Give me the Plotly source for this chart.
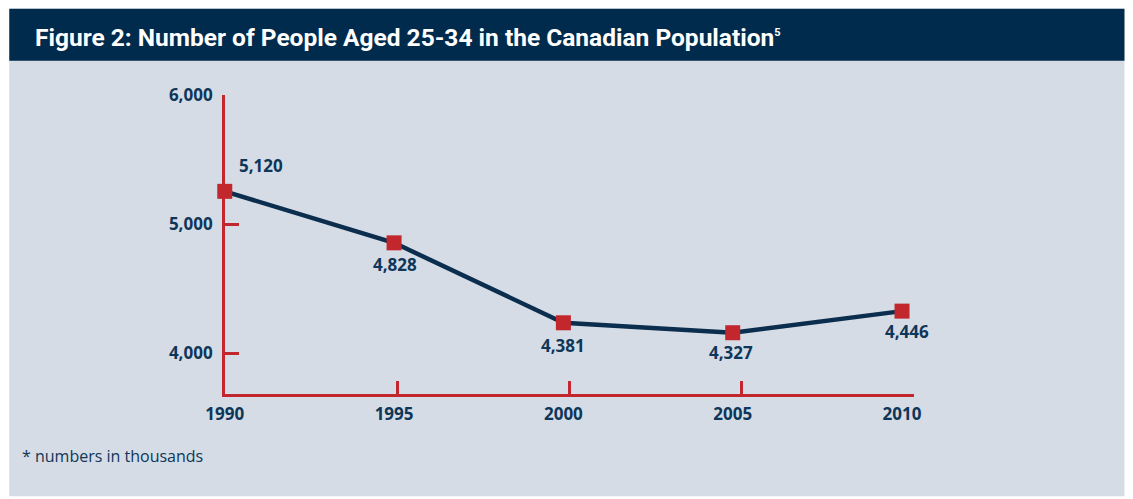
import plotly.graph_objects as go

# ---- data ----
years = [1990, 1995, 2000, 2005, 2010]
# plotted positions as read against the drawn y-axis (thousands)
values = [5253, 4855, 4237, 4160, 4327]
# printed labels on the chart
labels = ["5,120", "4,828", "4,381", "4,327", "4,446"]
ytick_vals = [4000, 5000, 6000]
ytick_text = ["4,000", "5,000", "6,000"]
xtick_vals = [1990, 1995, 2000, 2005, 2010]

title_text = ("Figure 2: Number of People Aged 25-34 in the Canadian Population"
              "<sup><span style='font-size:11px'>5</span></sup>")
footnote = "* numbers in thousands"

# ---- style ----
W, H = 1133, 499
# calibration between reference pixels and page pixels
SX, BX, SY, BY = 0.983, 16.8, 0.977, 12.2
NAVY = "#002b4d"
TEXT = "#0e3658"
RED = "#c1272d"
BG = "#d5dce6"
label_dx = [36, 1, 0, -2, 5]
label_dy = [26, -22, -23, -20, -20]


def px(x):
    return ((x - BX) / SX) / W


def py(y):
    return 1 - ((y - BY) / SY) / H


BOLD = dict(family="Open Sans", size=17, color=TEXT, weight="bold")

fig = go.Figure()
fig.add_trace(go.Scatter(
    x=years, y=values, mode="lines+markers",
    line=dict(color="#0b2d4e", width=4.5),
    marker=dict(symbol="square", size=15, color=RED, line=dict(width=0)),
    cliponaxis=False, hoverinfo="skip", showlegend=False,
))
# carrier for the tick-mark axis
fig.add_trace(go.Scatter(
    x=xtick_vals, y=[None] * len(xtick_vals), xaxis="x2", yaxis="y",
    mode="markers", hoverinfo="skip", showlegend=False,
))

for x, y, t, dx, dy in zip(years, values, labels, label_dx, label_dy):
    fig.add_annotation(x=x, y=y, text=t, showarrow=False, xshift=dx, yshift=dy,
                       xanchor="center", yanchor="middle", font=BOLD)

shapes = [
    dict(type="rect", xref="paper", yref="paper", x0=px(7), x1=px(1130), y0=py(497), y1=py(9),
         fillcolor=BG, line=dict(width=0), layer="below"),
    dict(type="rect", xref="paper", yref="paper", x0=px(7), x1=px(1130), y0=py(61), y1=py(9),
         fillcolor=NAVY, line=dict(width=0), layer="below"),
]

xdom = [px(224), px(918)]
fig.update_layout(
    width=W, height=H,
    margin=dict(l=0, r=0, t=0, b=0),
    paper_bgcolor="white", plot_bgcolor="rgba(0,0,0,0)",
    shapes=shapes,
    xaxis=dict(
        domain=xdom,
        range=[1990, 1990 + (918 - 224) / (906 - 224) * 20],
        tickvals=xtick_vals, ticktext=[str(v) for v in xtick_vals],
        ticks="", ticklabelstandoff=2,
        showline=True, linecolor=RED, linewidth=2.5,
        showgrid=False, zeroline=False, tickfont=BOLD,
    ),
    xaxis2=dict(
        domain=xdom, overlaying="x", anchor="y", side="bottom",
        range=[1990, 2010],
        tickvals=xtick_vals, showticklabels=False,
        ticks="inside", ticklen=13, tickwidth=2.5, tickcolor=RED,
        showline=False, showgrid=False, zeroline=False,
    ),
    yaxis=dict(
        domain=[py(395), py(95)],
        range=[4000 - (395 - 354) / 129.5 * 1000, 6000],
        tickvals=ytick_vals, ticktext=ytick_text,
        ticks="inside", ticklen=14, tickwidth=2.5, tickcolor=RED,
        ticklabelstandoff=6,
        showline=True, linecolor=RED, linewidth=2.5,
        showgrid=False, zeroline=False, tickfont=BOLD,
    ),
    annotations=list(fig.layout.annotations) + [
        dict(xref="paper", yref="paper", x=px(31), y=py(38), text=title_text,
             showarrow=False, xanchor="left", yanchor="middle",
             font=dict(family="Roboto", size=24.5, color="white", weight="bold")),
        dict(xref="paper", yref="paper", x=px(18), y=py(457), text=footnote,
             showarrow=False, xanchor="left", yanchor="middle",
             font=dict(family="Open Sans", size=16, color=TEXT)),
    ],
)

fig.write_html("out.html", config={"displayModeBar": False},
               post_script="document.body.style.margin='0';")
